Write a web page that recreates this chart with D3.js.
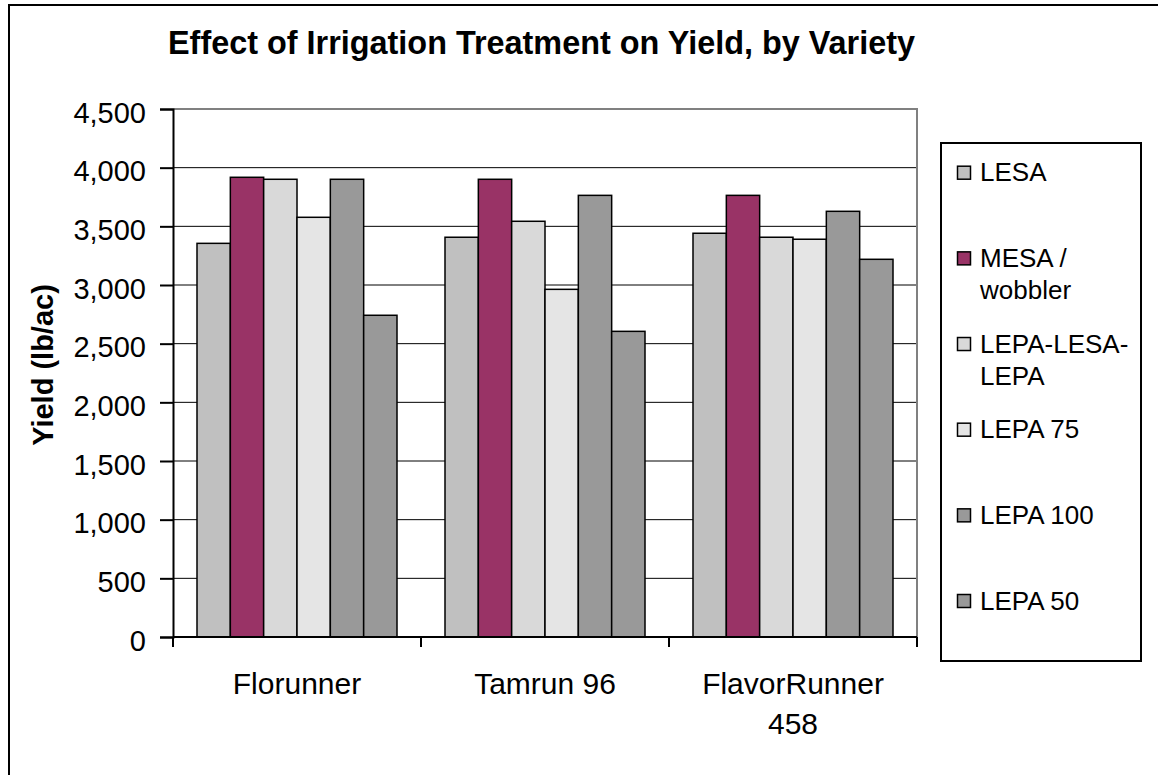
<!DOCTYPE html>
<meta charset="utf-8">
<style>
  body { margin: 0; background: #fff; }
  svg text { font-family: "Liberation Sans", Arial, sans-serif; fill: #000; }
</style>
<script src="https://d3js.org/d3.v7.min.js"></script>
<svg id="chart" width="1158" height="775"></svg>
<script>

// Data
var categories = ["Florunner", "Tamrun 96", "FlavorRunner 458"];
var categoryLines = [["Florunner"], ["Tamrun 96"], ["FlavorRunner", "458"]];
var series = ["LESA", "MESA / wobbler", "LEPA-LESA-LEPA", "LEPA 75", "LEPA 100", "LEPA 50"];
var seriesLines = [["LESA"], ["MESA /", "wobbler"], ["LEPA-LESA-", "LEPA"], ["LEPA 75"], ["LEPA 100"], ["LEPA 50"]];
var colors = ["#C0C0C0", "#993366", "#D9D9D9", "#E5E5E5", "#999999", "#999999"];

var lesa      = [3355, 3407, 3441];
var mesa      = [3918, 3901, 3764];
var lepaLesa  = [3901, 3543, 3407];
var lepa75    = [3577, 2963, 3390];
var lepa100   = [3901, 3764, 3628];
var lepa50    = [2742, 2605, 3219];
var values = [lesa, mesa, lepaLesa, lepa75, lepa100, lepa50];

var yTicks = d3.range(0, 4501, 500);

var svg = d3.select("#chart");

// outer chart border (only left and top edges fall inside the picture)
svg.append("rect")
  .attr("x", 9).attr("y", 5)
  .attr("width", 1200).attr("height", 800)
  .attr("fill", "none").attr("stroke", "#000").attr("stroke-width", 2);

var plotL = 173, plotR = 917, plotT = 109, plotB = 637;

var x = d3.scaleBand().domain(categories).range([plotL, plotR]).padding(0);
var xs = d3.scaleBand().domain(series).range([0, x.bandwidth()]).paddingInner(0).paddingOuter(0.72);
var y = d3.scaleLinear().domain([0, 4500]).range([plotB, plotT]);

// grid lines
svg.append("g").selectAll("line")
  .data(yTicks.filter(function(d) { return d > 0 && d < 4500; }))
  .enter().append("line")
    .attr("x1", plotL).attr("x2", plotR)
    .attr("y1", function(d) { return y(d); })
    .attr("y2", function(d) { return y(d); })
    .attr("stroke", "#000").attr("stroke-width", 1);

// plot area top and right border (grey)
svg.append("path")
  .attr("d", "M" + plotL + "," + plotT + "H" + plotR + "V" + plotB)
  .attr("fill", "none").attr("stroke", "#808080").attr("stroke-width", 2);

// bars
var rows = [];
categories.forEach(function(c, ci) {
  series.forEach(function(s, si) {
    rows.push({ cat: c, ser: s, si: si, value: values[si][ci] });
  });
});

svg.append("g").selectAll("rect")
  .data(rows)
  .enter().append("rect")
    .attr("x", function(d) { return x(d.cat) + xs(d.ser); })
    .attr("y", function(d) { return y(d.value); })
    .attr("width", xs.bandwidth())
    .attr("height", function(d) { return y(0) - y(d.value); })
    .attr("fill", function(d) { return colors[d.si]; })
    .attr("stroke", "#000").attr("stroke-width", 1.5);

// y axis
var yAxis = svg.append("g")
  .attr("transform", "translate(" + plotL + ",0)")
  .call(d3.axisLeft(y).tickValues(yTicks).tickSize(13).tickPadding(14).tickFormat(d3.format(",")));
yAxis.select(".domain").attr("stroke", "#000").attr("stroke-width", 2);
yAxis.selectAll(".tick line").attr("stroke", "#000").attr("stroke-width", 2);
yAxis.selectAll(".tick text")
  .attr("font-size", 29).attr("dy", "0.45em")
  .style("font-family", "'Liberation Sans', Arial, sans-serif");

// x axis: ticks at the category boundaries
var xAxis = svg.append("g").attr("transform", "translate(0," + plotB + ")");
xAxis.append("line")
  .attr("x1", plotL).attr("x2", plotR)
  .attr("stroke", "#000").attr("stroke-width", 2);
xAxis.selectAll("line.tk")
  .data(categories.map(function(c) { return x(c); }).concat([plotR]))
  .enter().append("line")
    .attr("class", "tk")
    .attr("x1", function(d) { return d; }).attr("x2", function(d) { return d; })
    .attr("y1", 0).attr("y2", 10)
    .attr("stroke", "#000").attr("stroke-width", 2);

var catText = svg.append("g").selectAll("text")
  .data(categories)
  .enter().append("text")
    .attr("x", function(d) { return x(d) + x.bandwidth() / 2; })
    .attr("y", 694)
    .attr("text-anchor", "middle")
    .attr("font-size", 30);
catText.selectAll("tspan")
  .data(function(d, i) { return categoryLines[i]; })
  .enter().append("tspan")
    .attr("x", function() { return d3.select(this.parentNode).attr("x"); })
    .attr("dy", function(d, i) { return i === 0 ? 0 : 40; })
    .text(function(d) { return d; });

// title
svg.append("text")
  .attr("x", 541.5).attr("y", 54)
  .attr("text-anchor", "middle")
  .attr("font-size", 32.4).attr("font-weight", "bold")
  .text("Effect of Irrigation Treatment on Yield, by Variety");

// y axis title
svg.append("text")
  .attr("transform", "translate(53,365) rotate(-90)")
  .attr("text-anchor", "middle")
  .attr("font-size", 29).attr("font-weight", "bold")
  .text("Yield (lb/ac)");

// legend
svg.append("rect")
  .attr("x", 941).attr("y", 143)
  .attr("width", 200).attr("height", 518)
  .attr("fill", "#fff").attr("stroke", "#000").attr("stroke-width", 2);

var ly = d3.scalePoint().domain(series).range([172.7, 601]);

var item = svg.append("g").selectAll("g")
  .data(series)
  .enter().append("g")
    .attr("transform", function(d) { return "translate(0," + ly(d) + ")"; });

item.append("rect")
  .attr("x", 957.5).attr("y", -6.5)
  .attr("width", 13).attr("height", 13)
  .attr("fill", function(d, i) { return colors[i]; })
  .attr("stroke", "#000").attr("stroke-width", 1.5);

item.append("text")
  .attr("x", 980).attr("y", 8.5)
  .attr("font-size", 26)
  .selectAll("tspan")
  .data(function(d, i) { return seriesLines[i]; })
  .enter().append("tspan")
    .attr("x", 980)
    .attr("dy", function(d, i) { return i === 0 ? 0 : 32; })
    .text(function(d) { return d; });

</script>
